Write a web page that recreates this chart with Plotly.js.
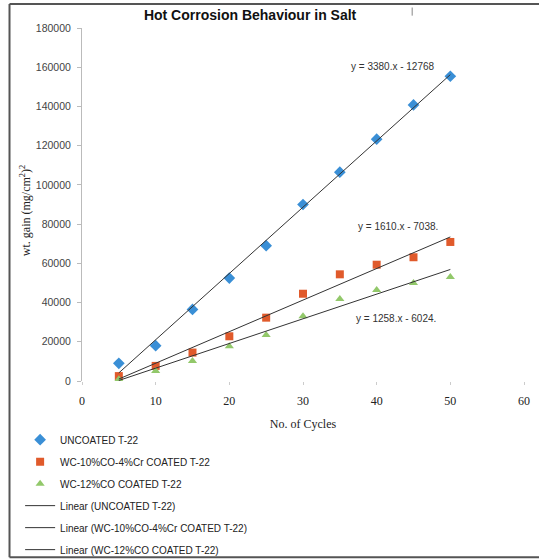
<!DOCTYPE html>
<html><head><meta charset="utf-8">
<script src="https://cdn.plot.ly/plotly-3.0.1.min.js"></script>
<style>html,body{margin:0;padding:0;background:#fff}</style>
</head><body>
<div id="chart" style="width:539px;height:559px"></div>
<script>
const cycles = [5, 10, 15, 20, 25, 30, 35, 40, 45, 50];
const uncoated = [9000, 18000, 36500, 52500, 69000, 90000, 106500, 123300, 140800, 155400];
const wc10co4cr = [2500, 7700, 14500, 22800, 32300, 44500, 54400, 59300, 63100, 70900];
const wc12co = [900, 5100, 10200, 17700, 23500, 33000, 41800, 46400, 50000, 53000];
const seriesNames = ['UNCOATED T-22', 'WC-10%CO-4%Cr COATED T-22', 'WC-12%CO COATED T-22'];
const trendSlope = [3380, 1610, 1258];
const trendIntercept = [-12768, -7038, -6024];
const trendLabels = ['y = 3380.x - 12768', 'y = 1610.x - 7038.', 'y = 1258.x - 6024.'];
const xTicks = [0, 10, 20, 30, 40, 50, 60];
const yTicks = [0, 20000, 40000, 60000, 80000, 100000, 120000, 140000, 160000, 180000];

const colors = ['#3a8fd6', '#e05a2b', '#92c86a'];
const symbols = ['diamond', 'square', 'triangle-up'];
const values = [uncoated, wc10co4cr, wc12co];

const traces = [];
values.forEach((v, i) => {
  traces.push({
    x: cycles, y: v, mode: 'markers', type: 'scatter', name: seriesNames[i],
    legendgroup: 'g' + i,
    marker: {symbol: symbols[i], color: colors[i], size: i === 0 ? 9 : 8}
  });
});
const xEnds = [cycles[0], cycles[cycles.length - 1]];
trendSlope.forEach((m, i) => {
  traces.push({
    x: xEnds, y: xEnds.map(x => m * x + trendIntercept[i]), mode: 'lines', type: 'scatter',
    name: 'Linear (' + seriesNames[i] + ')', legendgroup: 't' + i,
    line: {color: '#333', width: 1}
  });
});

const annPos = [[42.2, 160500], [42.9, 79000], [42.6, 32000]];
const annotations = trendLabels.map((t, i) => ({
  x: annPos[i][0], y: annPos[i][1], xref: 'x', yref: 'y', text: t, showarrow: false,
  font: {family: 'Liberation Sans', size: 10, color: '#333'}
}));
annotations.push({
  x: -0.129, y: 0.484, xref: 'paper', yref: 'paper', xanchor: 'center', yanchor: 'middle',
  textangle: -90, showarrow: false,
  text: 'wt. gain (mg/cm<sup>2</sup>)<sup>2</sup>',
  font: {family: 'Liberation Serif', size: 12, color: '#222'}
});

const frame = {type: 'line', xref: 'paper', yref: 'paper', line: {color: '#555', width: 2}};
const layout = {
  width: 539, height: 559,
  margin: {l: 82, r: 15, t: 28, b: 178, autoexpand: false},
  paper_bgcolor: '#fff', plot_bgcolor: '#fff',
  title: {text: '<b>Hot Corrosion Behaviour in Salt</b>', x: 0.464, xanchor: 'center', y: 0.973, yanchor: 'middle',
    font: {family: 'Liberation Sans', size: 14, color: '#111'}},
  xaxis: {range: [0, 60], tickvals: xTicks, showgrid: false, zeroline: false, showline: false, automargin: false,
    ticks: 'outside', ticklen: 3, tickcolor: '#ccc', ticklabelstandoff: 6,
    tickfont: {family: 'Liberation Serif', size: 12, color: '#222'},
    title: {text: 'No. of Cycles', standoff: 12, font: {family: 'Liberation Serif', size: 12, color: '#222'}}},
  yaxis: {range: [0, 180000], tickvals: yTicks, ticktext: yTicks.map(String), showgrid: false, zeroline: false, showline: true,
    automargin: false, linecolor: '#bbb', ticks: 'outside', ticklen: 4, tickcolor: '#bbb', ticklabelstandoff: 4,
    tickfont: {family: 'Liberation Sans', size: 10.5, color: '#444'}},
  showlegend: true,
  legend: {x: -0.14, y: -0.125, xanchor: 'left', yanchor: 'top', traceorder: 'grouped',
    tracegroupgap: 3, itemwidth: 30, bgcolor: 'rgba(0,0,0,0)',
    font: {family: 'Liberation Sans', size: 10, color: '#222'}},
  annotations: annotations,
  shapes: [
    Object.assign({x0: -0.164, x1: -0.164, y0: 1.068, y1: -0.499}, frame),
    Object.assign({x0: -0.164, x1: 1.04, y0: 1.068, y1: 1.068}, frame),
    Object.assign({x0: -0.164, x1: 1.04, y0: -0.499, y1: -0.499}, frame),
    {type: 'line', xref: 'paper', yref: 'paper', x0: 0.747, x1: 0.747, y0: 1.058, y1: 1.035, line: {color: '#888', width: 1}}
  ]
};
Plotly.newPlot('chart', traces, layout, {displayModeBar: false, staticPlot: true});
</script>
</body></html>
